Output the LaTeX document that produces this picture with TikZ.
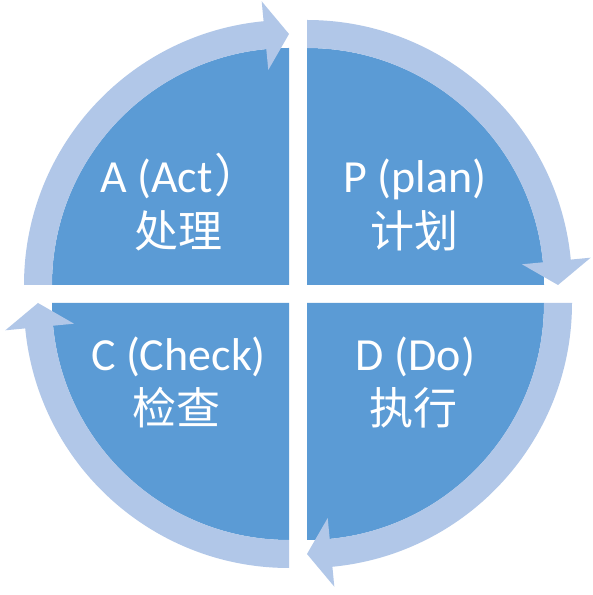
\documentclass[tikz,border=0pt]{standalone}
\usepackage{fontspec}
\setmainfont{Carlito}
\newfontfamily\cjk{Noto Sans CJK SC}
\usetikzlibrary{calc}
\definecolor{pieblue}{HTML}{5B9BD5}
\definecolor{ringblue}{HTML}{B1C7E8}
\newcommand\cyclearrow[4]{%
  \fill[band] ($(#1)+(#2:237)$) arc[start angle=#2,end angle=#3,radius=237]
    -- ($(#1)+(#3:216)$) -- ($(#1)+(#4:251)$) -- ($(#1)+(#3:285)$)
    -- ($(#1)+(#3:265)$) arc[start angle=#3,end angle=#2,radius=265] -- cycle;}
\begin{document}
\begin{tikzpicture}[x=1pt,y=1pt,
  piece/.style={fill=pieblue},
  band/.style={fill=ringblue},
  lbl/.style={text=white,font=\fontsize{46}{52}\selectfont,anchor=base,inner sep=0pt},
  cnlbl/.style={text=white,font=\fontsize{44}{50}\selectfont\cjk,anchor=base,inner sep=0pt}]
\useasboundingbox (0,0) rectangle (593,595);
\fill[white] (0,0) rectangle (593,595);
\coordinate (tl) at (289,310);
\coordinate (tr) at (307,310);
\coordinate (bl) at (289,292);
\coordinate (br) at (307,292);
% quadrants
\fill[piece] (tl) -- ++(180:237) arc[start angle=180,end angle=90,radius=237] -- cycle;
\fill[piece] (tr) -- ++(90:237) arc[start angle=90,end angle=0,radius=237] -- cycle;
\fill[piece] (br) -- ++(0:237) arc[start angle=0,end angle=-90,radius=237] -- cycle;
\fill[piece] (bl) -- ++(270:237) arc[start angle=270,end angle=180,radius=237] -- cycle;
% ring arrows
\cyclearrow{tl}{180}{95.5}{90}
\cyclearrow{tr}{90}{5.5}{0}
\cyclearrow{br}{0}{-84.5}{-90}
\cyclearrow{bl}{270}{185.5}{180}
% labels
\node[lbl,anchor=base west] (act) at (100,402) {A (Act\kern0.05em{\cjk ）}};
\node[cnlbl] (actcn) at (178,347) {处理};
\node[lbl] (plan) at (415,402) {P (plan)};
\node[cnlbl] (plancn) at (414,347) {计划};
\node[lbl] (check) at (178.5,224) {C (Check)};
\node[cnlbl] (checkcn) at (176.5,170) {检查};
\node[lbl] (do) at (415.5,224) {D (Do)};
\node[cnlbl] (docn) at (413.5,170) {执行};
\end{tikzpicture}
\end{document}
